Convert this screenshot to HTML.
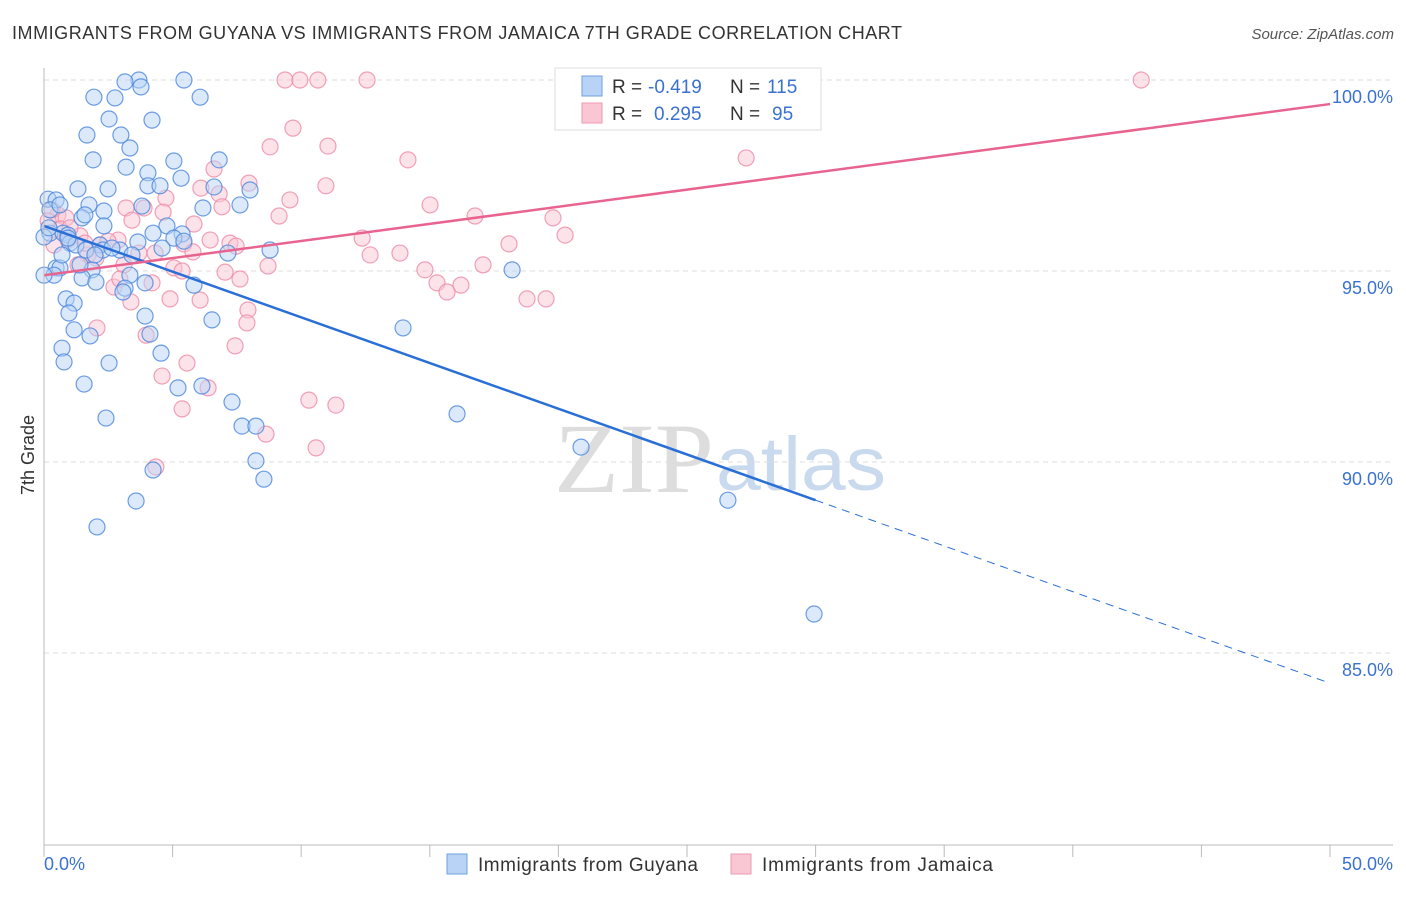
<!DOCTYPE html>
<html><head><meta charset="utf-8"><style>
body{margin:0;background:#fff;font-family:"Liberation Sans",sans-serif}
</style></head><body>
<svg id="c" width="1406" height="892" xmlns="http://www.w3.org/2000/svg" font-family="Liberation Sans, sans-serif">
<text x="12" y="39" font-size="18" fill="#333" textLength="890" lengthAdjust="spacing">IMMIGRANTS FROM GUYANA VS IMMIGRANTS FROM JAMAICA 7TH GRADE CORRELATION CHART</text>
<text x="1394" y="39" font-size="15" fill="#555" font-style="italic" text-anchor="end">Source: ZipAtlas.com</text>
<text x="554" y="492" font-size="100" fill="#ddd" font-family="Liberation Serif, serif" textLength="160" lengthAdjust="spacingAndGlyphs">ZIP</text>
<text x="716" y="490" font-size="76" fill="#c9d9ee" textLength="170" lengthAdjust="spacingAndGlyphs">atlas</text>
<g id="grid"></g><g id="pts"></g><g id="lines"></g><g id="axes"></g>
<text transform="translate(34,455) rotate(-90)" font-size="18" fill="#333" text-anchor="middle">7th Grade</text>
<g>
<rect x="555" y="68" width="266" height="62" fill="#fff" stroke="#ddd"/>
<rect x="582" y="76" width="20" height="20" fill="#b8d3f5" stroke="#6fa0e0"/>
<rect x="582" y="103" width="20" height="20" fill="#f9c6d4" stroke="#ee9ab2"/>
<text x="612" y="93" font-size="19" fill="#333">R =</text>
<text x="648" y="93" font-size="19" fill="#3a72d0">-0.419</text>
<text x="730" y="93" font-size="19" fill="#333">N =</text>
<text x="767" y="93" font-size="19" fill="#3a72d0">115</text>
<text x="612" y="120" font-size="19" fill="#333">R =</text>
<text x="654" y="120" font-size="19" fill="#3a72d0">0.295</text>
<text x="730" y="120" font-size="19" fill="#333">N =</text>
<text x="772" y="120" font-size="19" fill="#3a72d0">95</text>
</g>
<g>
<rect x="447" y="854" width="20" height="20" fill="#b8d3f5" stroke="#6fa0e0"/>
<text x="478" y="871" font-size="19" fill="#333" textLength="220" lengthAdjust="spacing">Immigrants from Guyana</text>
<rect x="731" y="854" width="20" height="20" fill="#f9c6d4" stroke="#ee9ab2"/>
<text x="762" y="871" font-size="19" fill="#333" textLength="231" lengthAdjust="spacing">Immigrants from Jamaica</text>
</g>
</svg>
<script>
const yTicks=[100,95,90,85];
const yTickLabels=["100.0%","95.0%","90.0%","85.0%"];
const xTickLabels=["0.0%","50.0%"];
const blueX=[3.69,5.44,3.15,3.77,2.76,6.07,1.94,2.53,4.20,1.67,2.99,3.34,1.91,6.81,3.19,5.05,4.04,5.33,1.32,2.49,4.04,4.51,6.61,8.01,0.16,0.47,0.23,1.75,3.81,2.33,6.18,7.62,1.48,1.59,2.33,4.78,0.23,0.74,0.93,4.24,5.37,5.05,1.01,1.24,2.18,3.65,5.44,8.79,2.29,2.95,3.42,7.15,4.59,0.47,0.62,1.87,0.39,3.34,1.48,2.02,3.93,5.83,3.15,3.07,0.86,1.17,0.97,3.93,6.53,13.96,1.17,1.79,4.12,0.70,4.55,0.78,2.53,1.56,5.21,6.14,7.31,7.70,8.24,2.41,16.06,4.24,8.24,8.55,3.58,2.06,20.88,18.20,26.59,29.94,0,0,0.19,0.62,0.93,1.63,1.98,2.64,1.40,0.70];
const blueY=[100,100,99.95,99.82,99.53,99.55,99.55,98.98,98.95,98.56,98.56,98.22,97.91,97.91,97.72,97.88,97.57,97.43,97.15,97.15,97.23,97.23,97.20,97.12,96.88,96.86,96.60,96.73,96.70,96.57,96.65,96.73,96.39,96.47,96.18,96.18,95.99,95.99,95.94,95.99,95.97,95.86,95.73,95.68,95.68,95.76,95.78,95.55,95.55,95.55,95.42,95.47,95.60,95.08,95.08,95.03,94.89,94.89,94.82,94.71,94.69,94.63,94.55,94.45,94.27,94.16,93.90,93.82,93.72,93.51,93.46,93.30,93.35,92.98,92.85,92.62,92.59,92.04,91.94,91.99,91.57,90.94,90.94,91.15,91.26,89.79,90.03,89.55,88.98,88.30,90.39,95.03,89.0,86.02,94.89,95.89,96.13,96.73,95.86,95.55,95.42,95.60,95.16,95.42];
const pinkX=[9.37,9.95,10.65,12.56,20.30,25.9,42.66,9.68,11.04,8.79,14.15,27.30,6.61,7.97,10.96,6.10,9.56,6.81,4.74,6.92,15.01,9.14,3.19,3.89,4.63,3.42,5.83,0.54,0.86,16.76,19.79,12.37,6.46,7.23,7.47,5.44,2.88,2.18,0.93,0.39,20.26,18.08,12.68,13.84,5.79,3.69,4.32,1.71,1.32,5.05,5.37,8.71,7.04,7.62,14.81,17.07,15.28,15.67,16.21,2.72,4.20,4.90,18.78,19.52,3.38,7.93,7.89,2.06,3.97,7.43,5.56,4.59,6.38,10.30,11.35,5.37,8.63,10.58,4.35,0.31,0.62,1.40,2.49,3.11,0.16,1.01,1.59,2.02,2.95,6.07];
const pinkY=[100,100,100,100,100,100,100,98.74,98.27,98.25,97.91,97.96,97.67,97.30,97.23,97.17,96.86,97.02,96.91,96.68,96.73,96.44,96.65,96.65,96.54,96.33,96.23,96.47,96.39,96.44,96.39,95.86,95.81,95.73,95.65,95.71,95.81,95.68,95.81,95.68,95.94,95.71,95.42,95.47,95.50,95.47,95.47,95.42,95.16,95.08,95.0,95.13,94.97,94.79,95.03,95.16,94.69,94.45,94.63,94.58,94.69,94.27,94.27,94.27,94.19,93.98,93.64,93.51,93.32,93.04,92.59,92.25,91.94,91.62,91.49,91.39,90.73,90.37,89.87,96.60,96.10,95.92,95.78,95.16,96.31,96.13,95.73,95.34,94.79,94.24];
const blueTrend=[[0,96.18],[30,89.0],[50,84.21]];
const pinkTrend=[[0,94.89],[50,99.37]];
const NS="http://www.w3.org/2000/svg";
const sx=v=>44+v*1286/50;
const sy=v=>80+(100-v)*38.2;
function mk(t,a,p){const e=document.createElementNS(NS,t);for(const k in a)e.setAttribute(k,a[k]);document.getElementById(p).appendChild(e);return e;}
yTicks.forEach((t,i)=>{
 const l=mk('line',{x1:44,x2:1393,y1:sy(t),y2:sy(t),stroke:'#ddd','stroke-dasharray':'5,4'},'grid');
 
 
 const tx=mk('text',{x:1393,y:sy(t)+23,'font-size':18,fill:'#3a72d0','text-anchor':'end'},'axes');
 tx.textContent=yTickLabels[i];
 
 
});
const ax=mk('line',{x1:44,x2:44,y1:68,y2:845,stroke:'#bbb'},'axes');


const bx=mk('line',{x1:44,x2:1393,y1:845,y2:845,stroke:'#bbb'},'axes');


for(let i=0;i<=10;i++){
 const t=mk('line',{x1:sx(i*5),x2:sx(i*5),y1:845,y2:857,stroke:'#bbb'},'axes');
 
 
}
[[0,'start',44],[50,'end',1393]].forEach((d,i)=>{
 const t=mk('text',{x:d[2],y:870,'font-size':18,fill:'#3a72d0','text-anchor':d[1]},'axes');
 t.textContent=xTickLabels[i];
 
 
});
function pts(X,Y,fill,stroke,name){X.forEach((x,i)=>{
 const c=mk('circle',{cx:sx(x),cy:sy(Y[i]),r:8,fill:fill,'fill-opacity':0.5,stroke:stroke,'stroke-opacity':0.8,'stroke-width':1.2},'pts');
 
 
});}
pts(pinkX,pinkY,'#f9c6d4','#ee8aa8','jamaica-point');
pts(blueX,blueY,'#b8d3f5','#4a86dc','guyana-point');
const b1=mk('line',{x1:sx(blueTrend[0][0]),y1:sy(blueTrend[0][1]),x2:sx(blueTrend[1][0]),y2:sy(blueTrend[1][1]),stroke:'#2a6fd6','stroke-width':2.5},'lines');


const b2=mk('line',{x1:sx(blueTrend[1][0]),y1:sy(blueTrend[1][1]),x2:sx(blueTrend[2][0]),y2:sy(blueTrend[2][1]),stroke:'#2a6fd6','stroke-width':1,'stroke-dasharray':'8,6'},'lines');


const p1=mk('line',{x1:sx(pinkTrend[0][0]),y1:sy(pinkTrend[0][1]),x2:sx(pinkTrend[1][0]),y2:sy(pinkTrend[1][1]),stroke:'#e8648f','stroke-width':2.5},'lines');


</script>
</body></html>
